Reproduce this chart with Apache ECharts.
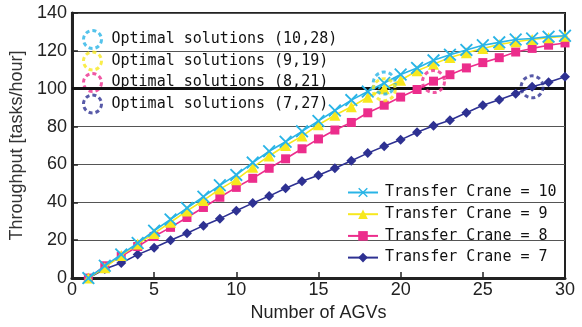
<!DOCTYPE html>
<html><head><meta charset="utf-8">
<script src="https://cdn.jsdelivr.net/npm/echarts@6/dist/echarts.min.js"></script>
<style>html,body{margin:0;padding:0;background:#fff}#c{width:582px;height:327px}</style>
</head><body><div id="c"></div>
<script>
var agvs = [1,2,3,4,5,6,7,8,9,10,11,12,13,14,15,16,17,18,19,20,21,22,23,24,25,26,27,28,29,30];
var crane10 = [0,6.5,12.5,18.5,25,31,37,43,49,54.5,61,67,72,77.5,83,88.5,94,98.5,103,107.5,111,115,118,120.5,123,124.5,126,126.5,127.5,128];
var crane9  = [0,5.5,12,18,23.6,29.5,35.5,41,47,52,58.5,64.5,70,75,81,86,90.5,95.5,100,104.5,109.5,113,116.5,119,121.3,123.4,124.8,126,126.9,127.7];
var crane8  = [0,6.5,11.5,16.7,22,26.8,32,37.3,42.7,47.9,52.7,58,63,68.3,73.5,78.2,82.2,87.3,91.3,95.6,99.6,104,107.4,111,113.8,116.4,119.4,121.3,123,124.2];
var crane7  = [0,4.8,8,12.4,16,20,23.7,27.7,31.4,35.6,39.6,43.3,47.4,51.2,54.3,58,62,66,69.6,73,77,80.5,83.4,87.3,91.3,94.2,97.3,101,103.4,106.3];
var seriesNames = ['Transfer Crane = 10','Transfer Crane = 9','Transfer Crane = 8','Transfer Crane = 7'];
var optNames = ['Optimal solutions (10,28)','Optimal solutions (9,19)','Optimal solutions (8,21)','Optimal solutions (7,27)'];
var optPoints = [[19,103],[19,99.5],[22,103.8],[28,101]];
var xTicks = {min:0,max:30,interval:5};
var yTicks = {min:0,max:140,interval:20};

var colors = ['#29B4E6','#F7E81E','#EC2D8C','#2E3192'];
var symbols = ['path://M1,0 L5,4 L9,0 L10,1 L6,5 L10,9 L9,10 L5,6 L1,10 L0,9 L4,5 L0,1 Z','triangle','rect','diamond'];
var symSizes = [13,11,9,10];
var allVals = [crane10,crane9,crane8,crane7];

function pairs(v){return agvs.map(function(x,i){return [x,v[i]];});}

var series = [];
allVals.forEach(function(v,i){
  var s = {
    name: seriesNames[i], type:'line', data: pairs(v),
    symbol: symbols[i], symbolSize: symSizes[i],
    lineStyle:{color:colors[i],width:1.6},
    itemStyle:{color:colors[i]},
    z: 8-i, animation:false
  };
  if(i===3){
    s.markLine = {silent:true, symbol:'none', label:{show:false},
      lineStyle:{color:'#111',width:3,type:'solid'}, data:[{yAxis:100}], animation:false};
  }
  series.push(s);
});
optPoints.forEach(function(p,i){
  series.push({
    name: optNames[i], type:'scatter', data:[p], symbol:'circle', symbolSize:22,
    itemStyle:{color:'rgba(0,0,0,0)', borderColor:colors[i], borderWidth:3, borderType:[4,3]},
    z: 10, animation:false
  });
});

var mono = 'DejaVu Sans Mono';
var chart = echarts.init(document.getElementById('c'));
chart.setOption({
  animation:false,
  grid:{left:68,right:17,top:13,bottom:45,show:true,borderColor:'#222',borderWidth:2,backgroundColor:'transparent'},
  xAxis:{type:'value',min:xTicks.min,max:xTicks.max,interval:xTicks.interval,
    name:'Number of AGVs',nameLocation:'middle',nameGap:24,
    nameTextStyle:{fontFamily:'Liberation Sans',fontSize:18,color:'#222'},
    axisLine:{lineStyle:{color:'#222',width:3}},
    axisTick:{inside:true,length:6,lineStyle:{color:'#222',width:1.5}},
    axisLabel:{fontFamily:'Liberation Sans',fontSize:18,color:'#222',margin:3},
    splitLine:{show:false}},
  yAxis:{type:'value',min:yTicks.min,max:yTicks.max,interval:yTicks.interval,
    name:'Throughput [tasks/hour]',nameLocation:'middle',nameGap:34,nameRotate:90,
    nameTextStyle:{fontFamily:'Liberation Sans',fontSize:18,color:'#333'},
    axisLine:{show:true,lineStyle:{color:'#222',width:3}},
    axisTick:{show:true,inside:true,length:6,lineStyle:{color:'#222',width:1.5}},
    axisLabel:{fontFamily:'Liberation Sans',fontSize:18,color:'#222',margin:5},
    splitLine:{show:true,lineStyle:{color:'#555',width:1.2}}},
  legend:[
    {orient:'vertical',left:77,top:24,itemGap:0.5,itemWidth:22,itemHeight:18,
     data:optNames.map(function(n,i){return {name:n,icon:'circle',
       itemStyle:{color:'rgba(0,0,0,0)',borderColor:colors[i],borderWidth:3,borderType:[4,3]}};}),
     textStyle:{fontFamily:mono,fontSize:15,color:'#111',padding:[0,0,0,3]}},
    {orient:'vertical',left:342,top:180,itemGap:6.7,itemWidth:30,itemHeight:12,
     data:seriesNames,
     textStyle:{fontFamily:mono,fontSize:15,color:'#111',padding:[0,0,0,2]}}
  ],
  series:series
});
</script></body></html>
